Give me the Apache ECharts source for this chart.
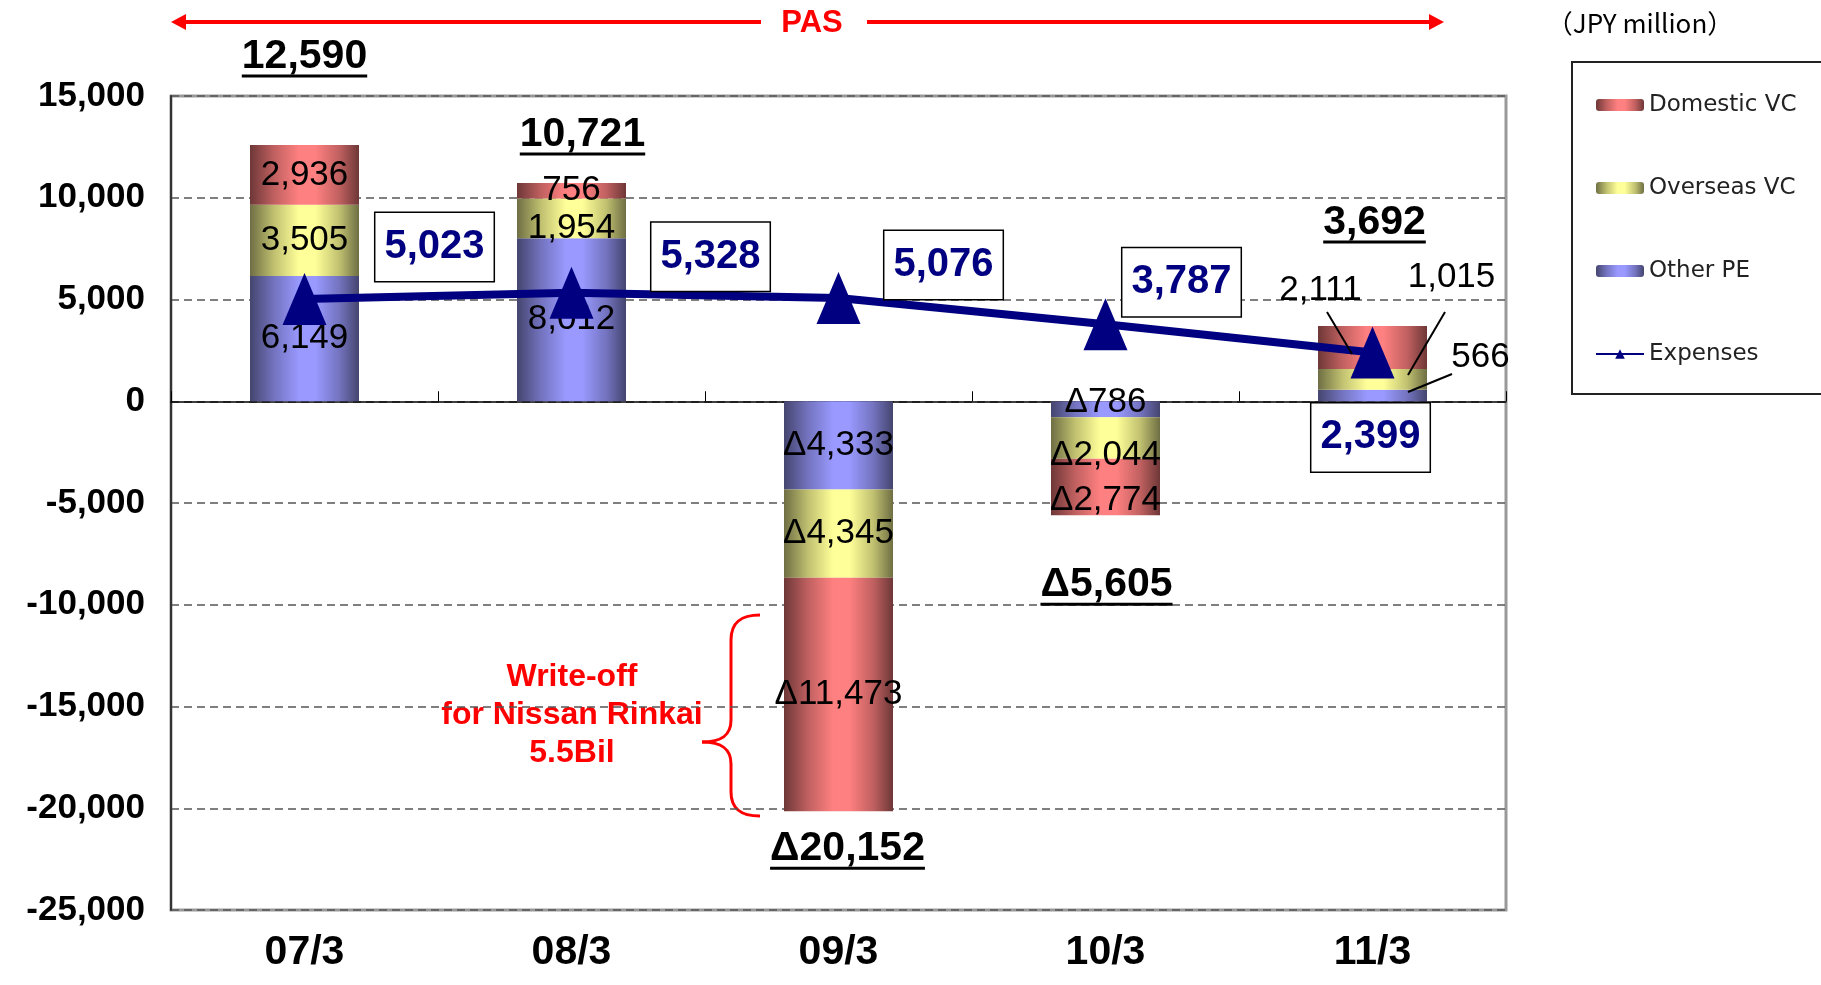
<!DOCTYPE html>
<html>
<head>
<meta charset="utf-8">
<script src="https://cdn.jsdelivr.net/npm/echarts@6/dist/echarts.min.js"></script>
<style>
  html, body { margin: 0; padding: 0; background: #fff; }
  #main { width: 1821px; height: 985px; }
</style>
</head>
<body>
<div id="main"></div>
<script>
  // data (JPY million)
  const categories = ['07/3', '08/3', '09/3', '10/3', '11/3'];
  const otherPE    = [6149, 8012, -4333, -786, 566];
  const overseasVC = [3505, 1954, -4345, -2044, 1015];
  const domesticVC = [2936, 756, -11473, -2774, 2111];
  const expenses   = [5023, 5328, 5076, 3787, 2399];
  const totals     = [12590, 10721, -20152, -5605, 3692];
  const yMin = -25000, yMax = 15000, yStep = 5000;

  const SANS = "'Liberation Sans', Arial, sans-serif";

  // 1,234 / Δ1,234 for negatives
  function fmt(v) {
    const s = Math.abs(v).toLocaleString('en-US');
    return v < 0 ? 'Δ' + s : s;
  }

  // cylinder-like shading of the bars
  function cyl(dark, mid, light) {
    return new echarts.graphic.LinearGradient(0, 0, 1, 0, [
      { offset: 0, color: dark },
      { offset: 0.22, color: mid },
      { offset: 0.45, color: light },
      { offset: 0.6, color: light },
      { offset: 0.82, color: mid },
      { offset: 1, color: dark }
    ]);
  }

  // label nudges (px)
  const peOffsets  = [[0, 0], [0, 0], [0, 0], [0, -7], [108, -38]];
  const ovOffsets  = [[0, 0], [0, 10], [0, 0], [0, 17], [79, -102]];
  const domOffsets = [[0, 0], [0, 0], [0, 0], [0, 13], [-52, -57]];
  const expOffsets = [[130, -52], [139, -36], [105, -33], [76, -42], [-2, 85]];
  const totOffsets = [[0, -87], [11, -47], [9, 39], [1, 71], [2, -102]];

  const totalFont = 'bold 41px ' + SANS;
  const measure = document.createElement('canvas').getContext('2d');
  measure.font = totalFont;

  function barData(vals, offs) {
    return vals.map((v, i) => ({ value: v, label: { offset: offs[i] } }));
  }

  const segLabel = {
    show: true,
    position: 'inside',
    formatter: p => fmt(p.value),
    fontFamily: SANS,
    fontSize: 35,
    color: '#000'
  };

  const red = { stroke: '#ff0000', lineWidth: 3, fill: null };

  const myChart = echarts.init(document.getElementById('main'));

  const option = {
    animation: false,
    backgroundColor: '#fff',
    grid: {
      left: 171, right: 315, top: 96, bottom: 75,
      containLabel: false, outerBoundsMode: 'none',
      show: true, borderColor: '#999', borderWidth: 3
    },
    legend: {
      orient: 'vertical',
      left: 1572, top: 62,
      padding: [31, 60, 28, 23],
      borderColor: '#222', borderWidth: 2,
      itemGap: 59, itemWidth: 48, itemHeight: 12,
      data: ['Domestic VC', 'Overseas VC', 'Other PE', 'Expenses'],
      textStyle: { fontFamily: "'DejaVu Sans', sans-serif", fontSize: 23, lineHeight: 24, color: '#222' }
    },
    xAxis: [
      {
        type: 'category', data: categories, position: 'bottom',
        axisLine: { show: false, onZero: false },
        axisTick: { show: false },
        axisLabel: { fontFamily: SANS, fontWeight: 'bold', fontSize: 41, color: '#000', margin: 22 }
      },
      {
        type: 'category', data: categories, position: 'bottom',
        axisLine: { show: true, onZero: true, lineStyle: { color: '#000', width: 1.5 } },
        axisTick: { show: true, inside: true, length: 10, lineStyle: { color: '#000' } },
        axisLabel: { show: false }
      }
    ],
    yAxis: {
      type: 'value', min: yMin, max: yMax, interval: yStep,
      axisLine: { show: true, lineStyle: { color: '#333', width: 2 } },
      axisTick: { show: false },
      axisLabel: {
        formatter: v => v.toLocaleString('en-US'),
        fontFamily: SANS, fontWeight: 'bold', fontSize: 35, color: '#000', margin: 26
      },
      splitLine: { show: true, lineStyle: { type: [8, 5], color: '#555', width: 1.5 } }
    },
    series: [
      {
        name: 'Other PE', type: 'bar', stack: 'pe', barWidth: 109,
        data: barData(otherPE, peOffsets),
        itemStyle: { color: cyl('#45456f', '#7373bf', '#9999ff') },
        label: segLabel
      },
      {
        name: 'Overseas VC', type: 'bar', stack: 'pe', barWidth: 109,
        data: barData(overseasVC, ovOffsets),
        itemStyle: { color: cyl('#6e6e44', '#c0c070', '#ffff99') },
        label: segLabel
      },
      {
        name: 'Domestic VC', type: 'bar', stack: 'pe', barWidth: 109,
        data: barData(domesticVC, domOffsets),
        itemStyle: { color: cyl('#6e3737', '#c06060', '#ff8080') },
        label: segLabel
      },
      {
        name: 'Expenses', type: 'line', z: 5,
        data: expenses.map((v, i) => ({ value: v, label: { offset: expOffsets[i] } })),
        symbol: 'triangle', symbolSize: [44, 52],
        itemStyle: { color: '#000080' },
        lineStyle: { color: '#000080', width: 8 },
        label: {
          show: true, position: 'inside',
          formatter: p => fmt(p.value),
          fontFamily: SANS, fontWeight: 'bold', fontSize: 40, lineHeight: 42, color: '#000080',
          backgroundColor: '#fff', borderColor: '#000', borderWidth: 1.5,
          padding: [13, 9]
        }
      },
      {
        name: 'Total', type: 'scatter', z: 6,
        symbolSize: 1, itemStyle: { color: 'rgba(255,255,255,0)', opacity: 1 },
        data: totals.map((v, i) => ({
          value: v,
          label: {
            show: true, position: 'inside', offset: totOffsets[i], opacity: 1,
            formatter: '{t|' + fmt(v) + '}\n{u|}',
            rich: {
              t: { fontFamily: SANS, fontWeight: 'bold', fontSize: 41, lineHeight: 36, color: '#000' },
              u: { width: measure.measureText(fmt(v)).width, height: 3, backgroundColor: '#000' }
            }
          }
        }))
      }
    ],
    graphic: [
      // PAS span arrow
      { type: 'line', shape: { x1: 180, y1: 22, x2: 761, y2: 22 }, style: { stroke: '#ff0000', lineWidth: 4 } },
      { type: 'line', shape: { x1: 867, y1: 22, x2: 1432, y2: 22 }, style: { stroke: '#ff0000', lineWidth: 4 } },
      { type: 'polygon', shape: { points: [[171, 22], [186, 14], [186, 30]] }, style: { fill: '#ff0000' } },
      { type: 'polygon', shape: { points: [[1444, 22], [1429, 14], [1429, 30]] }, style: { fill: '#ff0000' } },
      { type: 'text', x: 812, y: 23, style: { text: 'PAS', fill: '#ff0000', font: 'bold 31px ' + SANS, align: 'center', verticalAlign: 'middle' } },
      { type: 'text', x: 1640, y: 23, style: { text: '（JPY million）', fill: '#000', font: "26px 'Noto Sans CJK JP', sans-serif", align: 'center', verticalAlign: 'middle' } },
      // write-off note with brace
      { type: 'text', x: 572, y: 715, style: { text: 'Write-off\nfor Nissan Rinkai\n5.5Bil', fill: '#ff0000', font: 'bold 32px ' + SANS, align: 'center', verticalAlign: 'middle', lineHeight: 38 } },
      { type: 'bezierCurve', shape: { x1: 760, y1: 615, cpx1: 741, cpy1: 615, cpx2: 731, cpy2: 622, x2: 731, y2: 640 }, style: red },
      { type: 'line', shape: { x1: 731, y1: 640, x2: 731, y2: 720 }, style: red },
      { type: 'bezierCurve', shape: { x1: 731, y1: 720, cpx1: 731, cpy1: 735, cpx2: 722, cpy2: 742, x2: 702, y2: 742 }, style: red },
      { type: 'bezierCurve', shape: { x1: 702, y1: 742, cpx1: 722, cpy1: 742, cpx2: 731, cpy2: 749, x2: 731, y2: 764 }, style: red },
      { type: 'line', shape: { x1: 731, y1: 764, x2: 731, y2: 792 }, style: red },
      { type: 'bezierCurve', shape: { x1: 731, y1: 792, cpx1: 731, cpy1: 809, cpx2: 741, cpy2: 816, x2: 760, y2: 816 }, style: red },
      // leader lines for the 11/3 segment labels
      { type: 'line', z: 10, shape: { x1: 1327, y1: 312, x2: 1352, y2: 354 }, style: { stroke: '#000', lineWidth: 2 } },
      { type: 'line', z: 10, shape: { x1: 1445, y1: 312, x2: 1408, y2: 375 }, style: { stroke: '#000', lineWidth: 2 } },
      { type: 'line', z: 10, shape: { x1: 1452, y1: 374, x2: 1408, y2: 392 }, style: { stroke: '#000', lineWidth: 2 } }
    ]
  };

  myChart.setOption(option);
</script>
</body>
</html>
